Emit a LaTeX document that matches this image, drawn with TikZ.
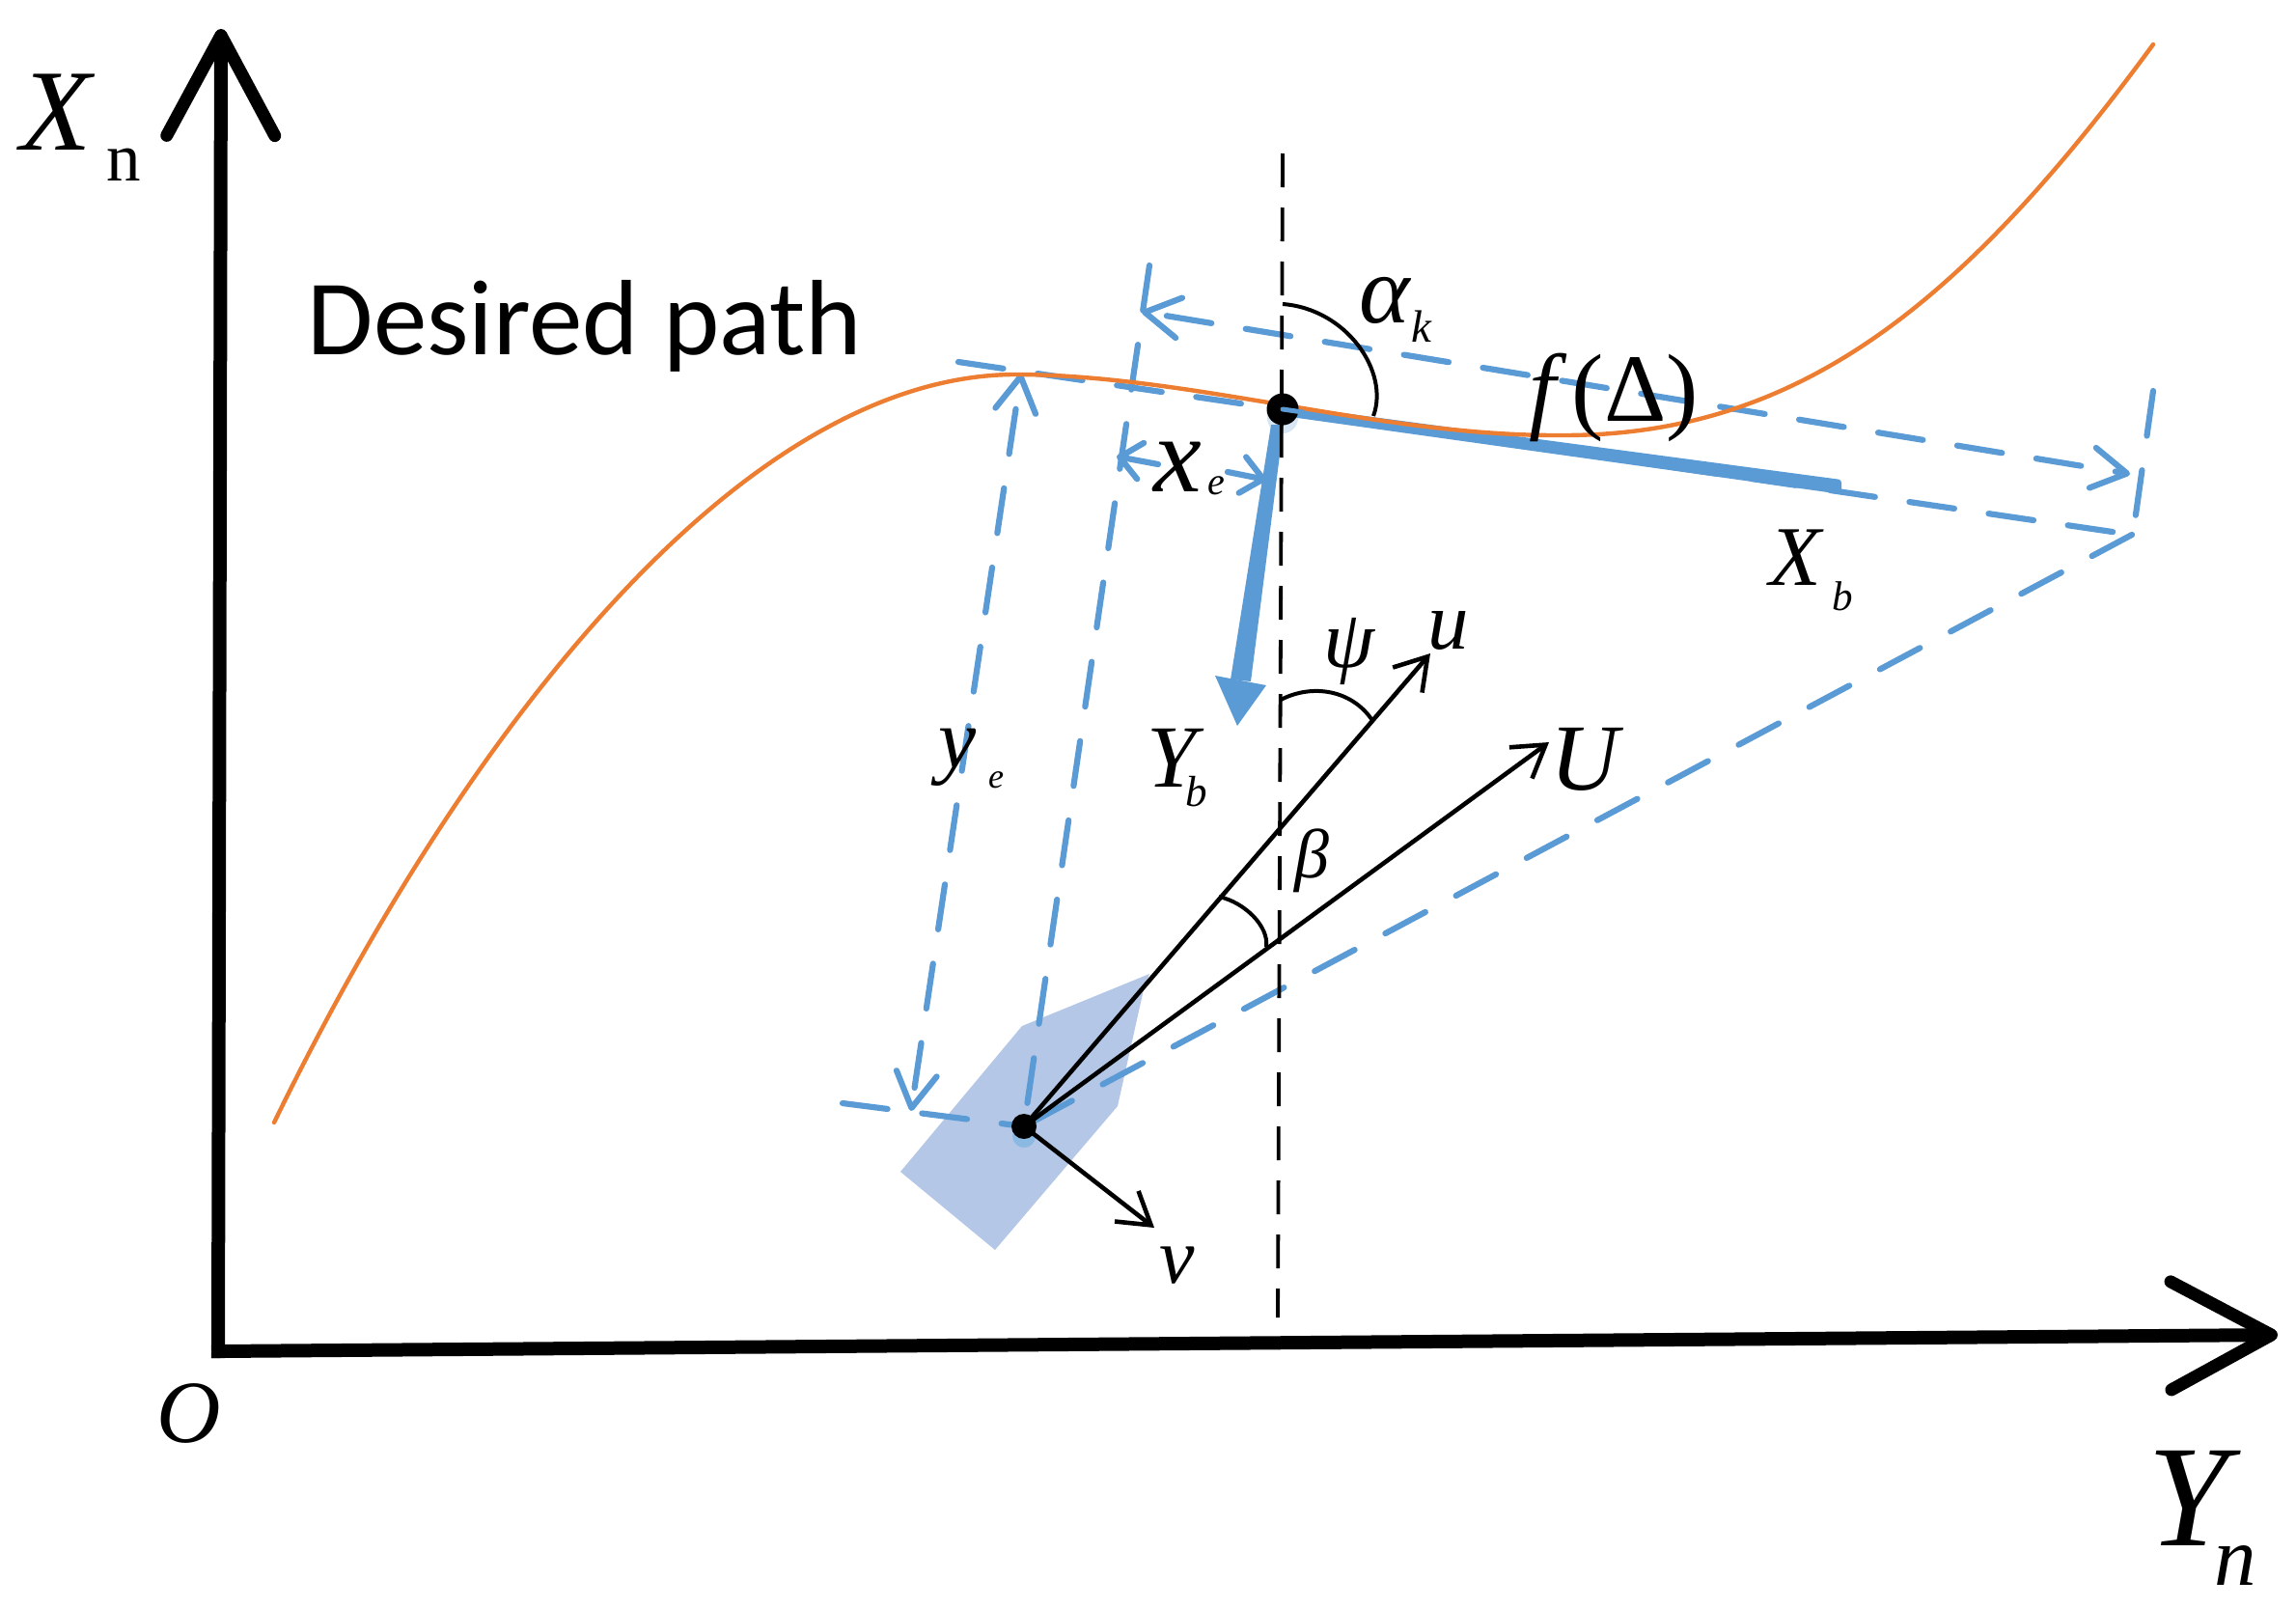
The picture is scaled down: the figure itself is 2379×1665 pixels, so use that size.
\documentclass[tikz,border=0pt]{standalone}
\usepackage{fontspec}
\setmainfont{Liberation Serif}
\newfontfamily\calibrifont{Carlito}
\usetikzlibrary{arrows.meta}
\definecolor{bluedash}{HTML}{5B9BD5}
\definecolor{pathorange}{HTML}{ED7D31}
\definecolor{shipblue}{HTML}{B4C7E7}
\newcommand{\fs}[1]{\fontsize{#1}{#1}\selectfont}
\tikzset{
  axisline/.style={line width=14pt,line cap=rect,-{Straight Barb[length=104pt,width=112pt,line width=13pt,round]}},
  bluedashed/.style={bluedash,line width=6.2pt,line cap=round,dash pattern=on 47pt off 36pt},
  bluehead/.style={{Straight Barb[length=36pt,width=42pt,round]}-{Straight Barb[length=36pt,width=42pt,round]}},
  smallhead/.style={bluedash,line width=6.2pt,line cap=round,-{Straight Barb[length=22pt,width=38pt,round]}},
  blackarrow/.style={line width=4.6pt,-{Straight Barb[length=32pt,width=40pt]}},
  arcline/.style={line width=4pt},
  refdash/.style={line width=3.8pt,dash pattern=on 35pt off 21pt},
  lbl/.style={inner sep=0pt,outer sep=0pt,anchor=center},
  pathcurve/.style={pathorange,line width=4.4pt,line cap=round}
}
\begin{document}
\begin{tikzpicture}[x=1pt,y=-1pt]
\useasboundingbox (0,0) rectangle (2379,1665);
% named points
\coordinate (O) at (226,1400);
\coordinate (XnTip) at (229,30);
\coordinate (YnTip) at (2360,1383);
\coordinate (P) at (1329,424);
\coordinate (S) at (1061,1167);
\coordinate (Bleft) at (993,375);
\coordinate (Corner) at (2209,554);
\coordinate (Aleft) at (1183,323);
\coordinate (Aright) at (2207,491);
\coordinate (Ctop) at (1191,275);
\coordinate (Cbot) at (1063,1153);
\coordinate (Dtop) at (1058,387);
\coordinate (Dbot) at (944,1151);
\coordinate (Etop) at (2231,405);
\coordinate (Ebot) at (2212,540);
\coordinate (Gleft) at (873,1143);
\coordinate (Rtop) at (1329,159);
\coordinate (Rbot) at (1324,1365);
\coordinate (uTip) at (1482,677);
\coordinate (UTip) at (1605,769);
\coordinate (vTip) at (1196,1272);
% ship
\fill[shipblue] (1191,1009) -- (1185,1025) -- (1158,1146) -- (1031,1295) -- (933,1214) -- (1059,1063) -- cycle;
% dashed construction lines
\draw[bluedashed] (Bleft) -- (Corner);
\draw[bluedashed] (Corner) -- (S);
\draw[bluedashed] (Ctop) -- (Cbot);
\draw[bluedashed] (Etop) -- (Ebot);
\draw[bluedashed] (Gleft) -- (S);
\draw[bluedashed,bluehead,dash phase=63pt] (Aleft) -- (Aright);
\draw[bluedashed,bluehead,dash phase=52pt] (Dtop) -- (Dbot);
% x_e arrows
\coordinate (xeL) at (1157,473);
\coordinate (xeLe) at (1200,481);
\coordinate (xeR) at (1312,497);
\coordinate (xeRe) at (1272,489);
\draw[smallhead] (xeLe) -- (xeL);
\draw[smallhead] (xeRe) -- (xeR);
% light halos below the dots
\fill[bluedash!25] (1329,433) circle (16pt);
\fill[bluedash!70] (1061,1177) circle (12pt);
% thick body axes
\coordinate (Xbend) at (1908,505);
\fill[bluedash,rounded corners=3pt] (1325,419) -- (1908,497) -- (1908,512) -- (1323,430) -- cycle;
\fill[bluedash] (1317,440) -- (1330,440) -- (1296,706) -- (1275,704) -- cycle;
\fill[bluedash] (1259,700) -- (1312,710) -- (1282,752) -- cycle;
% orange path
\draw[pathcurve] (284,1163) .. controls (480,760) and (770,384) .. (1058,388)
  .. controls (1240,390) and (1430,452) .. (1617,451)
  .. controls (1860,452) and (2030,320) .. (2231,46);
% reference dashed line
\draw[refdash] (Rtop) -- (Rbot);
% black vectors
\draw[blackarrow] (S) -- (uTip);
\draw[blackarrow] (S) -- (UTip);
\draw[blackarrow] (S) -- (vTip);
% arcs
\draw[arcline] (1329,315) .. controls (1395,320) and (1440,385) .. (1423,431);
\draw[arcline] (1327,725) .. controls (1360,708) and (1400,715) .. (1421,745);
\draw[arcline] (1263,929) .. controls (1290,935) and (1315,960) .. (1312,981);
% dots
\fill[black] (P) circle (16.5pt);
\fill[black] (S) circle (13pt);
\draw[bluedash,line width=5pt,line cap=round] (P) -- (1350,427);
% axes
\draw[axisline] (O) -- (XnTip);
\draw[axisline] (O) -- (YnTip);
% labels
\node[lbl] (tXn) at (58,116) {\fs{120}\itshape X};
\node[lbl] (tXnn) at (128,171) {\fs{71}n};
\node[lbl] (tDesired) at (606,338) {\calibrifont\fs{111}Desired path};
\node[lbl] (tO) at (196,1464) {\fs{92}\itshape O};
\node[lbl] (tYn) at (2267,1552) {\fs{150}\itshape Y};
\node[lbl] (tYnn) at (2316,1622) {\fs{87}\itshape n};
\node[lbl] (tAlpha) at (1435,311) {\fs{100}\itshape α};
\node[lbl] (tAlphak) at (1473,338) {\fs{47}\itshape k};
\node[lbl] (tf) at (1672,412) {\fs{100}\itshape f\,\upshape(Δ)};
\node[lbl] (tXb) at (1860,578) {\fs{88}\itshape X};
\node[lbl] (tXbb) at (1909,618) {\fs{43}\itshape b};
\node[lbl] (tYb) at (1214,785) {\fs{92}\itshape Y};
\node[lbl] (tYbb) at (1240,820) {\fs{45}\itshape b};
\node[lbl] (txe) at (1220,484) {\fs{112}\itshape x};
\node[lbl] (txee) at (1260,503) {\fs{40}\itshape e};
\node[lbl] (tye) at (992,785) {\fs{88}\itshape y};
\node[lbl] (tyee) at (1032,808) {\fs{36}\itshape e};
\node[lbl] (tpsi) at (1398,675) {\fs{85}\itshape ψ};
\node[lbl] (tu) at (1501,653) {\fs{85}\itshape u};
\node[lbl] (tU) at (1642,787) {\fs{98}\itshape U};
\node[lbl] (tbeta) at (1359,892) {\fs{72}\itshape β};
\node[lbl] (tv) at (1220,1311) {\fs{82}\itshape v};
\end{tikzpicture}
\end{document}
